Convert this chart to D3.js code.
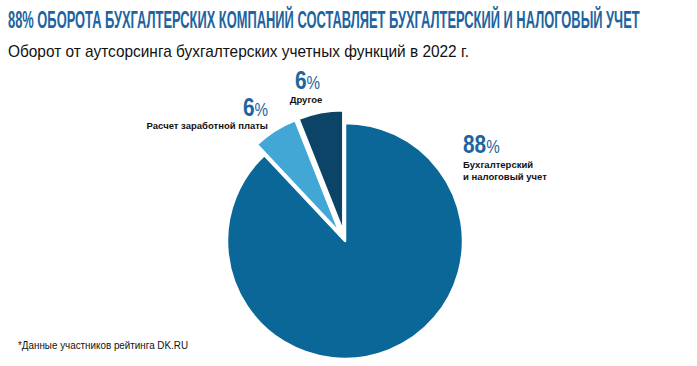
<!DOCTYPE html>
<html>
<head>
<meta charset="utf-8">
<script src="https://cdn.jsdelivr.net/npm/d3@7"></script>
<style>
  body { margin: 0; background: #fff; }
  text { font-family: "Liberation Sans Narrow", "Liberation Sans", Arial, sans-serif; }
</style>
</head>
<body>
<div id="chart"></div>
<script>
var categories = ["Бухгалтерский и налоговый учет", "Расчет заработной платы", "Другое"];
var labelLines = [["Бухгалтерский", "и налоговый учет"], ["Расчет заработной платы"], ["Другое"]];
var shares = [88, 6, 6];
var colors = ["#0a6797", "#43a7d5", "#0b4466"];

var width = 697, height = 366;
var cx = 345, cy = 241, radius = 118;

var svg = d3.select("#chart").append("svg")
    .attr("width", width)
    .attr("height", height);

// header, squeezed to the width of the original condensed face
var title = svg.append("text")
    .style("font-size", "24px").style("font-weight", "bold")
    .attr("fill", "#1d64a0")
    .text("88% ОБОРОТА БУХГАЛТЕРСКИХ КОМПАНИЙ СОСТАВЛЯЕТ БУХГАЛТЕРСКИЙ И НАЛОГОВЫЙ УЧЕТ");
var tw = title.node().getComputedTextLength();
title.attr("transform", "translate(8,28) scale(" + (632 / tw) + ",1)");

svg.append("text")
    .attr("x", 8).attr("y", 57)
    .attr("textLength", 461).attr("lengthAdjust", "spacingAndGlyphs")
    .style("font-size", "17px")
    .attr("fill", "#111")
    .text("Оборот от аутсорсинга бухгалтерских учетных функций в 2022 г.");

svg.append("text")
    .attr("x", 18).attr("y", 349)
    .attr("textLength", 170).attr("lengthAdjust", "spacingAndGlyphs")
    .style("font-size", "11px")
    .attr("fill", "#111")
    .text("*Данные участников рейтинга DK.RU");

var pie = d3.pie().value(function(d) { return d; }).sort(null);
var arcs = pie(shares);

var arcBig = d3.arc().innerRadius(0).outerRadius(radius);
var arcSmall = d3.arc().innerRadius(0).outerRadius(radius + 4);
var explode = 9;

var g = svg.append("g").attr("transform", "translate(" + cx + "," + cy + ")");

g.selectAll("path")
    .data(arcs)
    .enter()
    .append("path")
    .attr("d", function(d, i) { return i === 0 ? arcBig(d) : arcSmall(d); })
    .attr("transform", function(d, i) {
      if (i === 0) return null;
      var a = (d.startAngle + d.endAngle) / 2;
      return "translate(" + (Math.sin(a) * explode) + "," + (-Math.cos(a) * explode) + ")";
    })
    .attr("fill", function(d, i) { return colors[i]; })
    .attr("stroke", "#fff")
    .attr("stroke-width", 2.5)
    .attr("stroke-linejoin", "round");

// label placement for each slice (value left edge x, baseline y)
var labelPos = [
  { x: 463, y: 153, anchor: "start", tx: 463, ty: 168 },
  { x: 243, y: 116, anchor: "end", tx: 268, ty: 129 },
  { x: 295, y: 89, anchor: "middle", tx: 306, ty: 103 }
];

labelPos.forEach(function(p, i) {
  // condensed look: squeeze the value horizontally
  var v = svg.append("text")
      .attr("transform", "translate(" + p.x + "," + p.y + ") scale(0.8,1)")
      .attr("fill", "#1d64a0");
  v.append("tspan").style("font-size", "26px").style("font-weight", "bold").text(shares[i]);
  v.append("tspan").style("font-size", "19px").text("%");

  labelLines[i].forEach(function(line, k) {
    svg.append("text")
        .attr("x", p.tx).attr("y", p.ty + k * 12)
        .attr("text-anchor", p.anchor)
        .style("font-family", "'Liberation Sans', Arial, sans-serif")
        .style("font-size", "9.5px").style("font-weight", "bold")
        .attr("fill", "#111")
        .text(line);
  });
});
</script>
</body>
</html>
